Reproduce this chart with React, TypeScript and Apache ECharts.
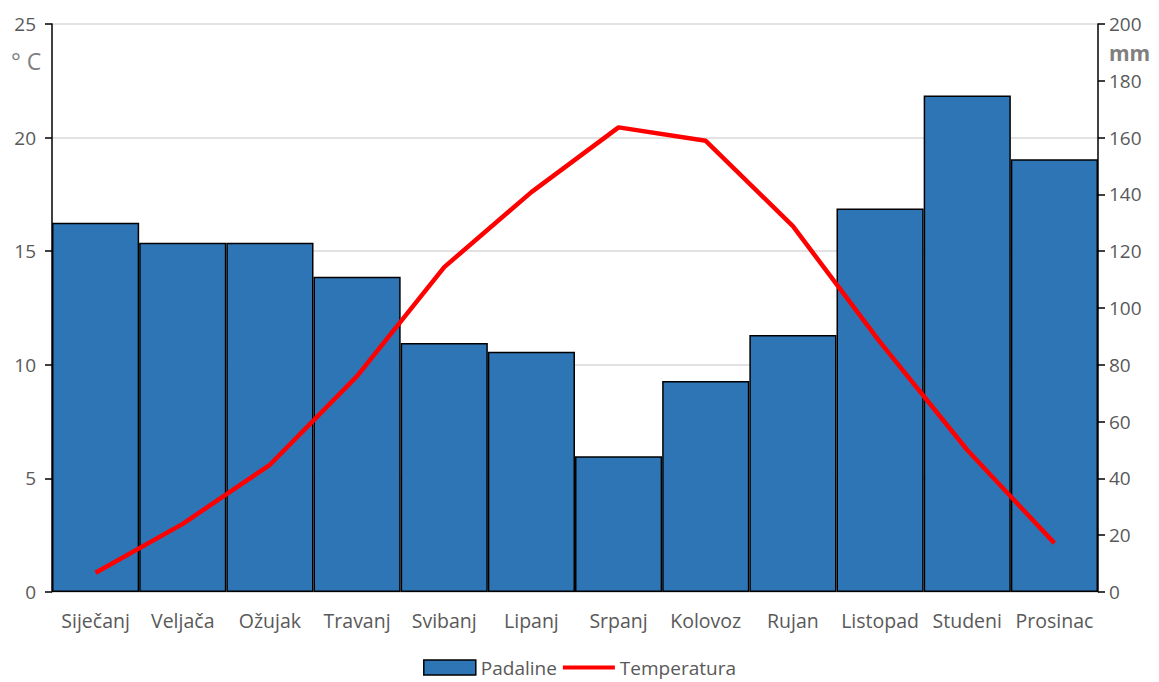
import React, { useEffect, useRef } from "react";
import * as echarts from "echarts";

const months = ["Siječanj", "Veljača", "Ožujak", "Travanj", "Svibanj", "Lipanj", "Srpanj", "Kolovoz", "Rujan", "Listopad", "Studeni", "Prosinac"];
const padaline = [130, 123, 123, 111, 87.7, 84.6, 47.8, 74.3, 90.5, 135, 174.8, 152.4];
const temperatura = [0.85, 3.0, 5.6, 9.5, 14.3, 17.6, 20.45, 19.86, 16.1, 11.0, 6.25, 2.15];
const leftTicks = { min: 0, max: 25, interval: 5 };
const rightTicks = { min: 0, max: 200, interval: 20 };

const FONT = "'Open Sans', 'Noto Sans', sans-serif";
const TXT = "#595959";
const LINE_ICON = "path://M0,0 L0.01,0 Z M0,5.5 H52 V9.5 H0 Z M0,15 L0.01,15 Z";

export default function App() {
  const ref = useRef<HTMLDivElement>(null);
  useEffect(() => {
    if (!ref.current) return;
    const chart = echarts.init(ref.current, undefined, { renderer: "svg" });
    chart.setOption({
      animation: false,
      textStyle: { fontFamily: FONT },
      grid: { left: 52, right: 61, top: 24, bottom: 90, containLabel: false },
      legend: {
        bottom: 0,
        left: "center",
        itemWidth: 52,
        itemHeight: 15,
        itemGap: 6,
        textStyle: { color: TXT, fontSize: 19, fontFamily: FONT },
        data: [
          { name: "Padaline", icon: "rect", itemStyle: { color: "#2E75B6", borderColor: "#000", borderWidth: 1.5 } },
          { name: "Temperatura", icon: LINE_ICON, itemStyle: { color: "#FF0000", borderWidth: 0 } },
        ],
      },
      xAxis: {
        type: "category",
        data: months,
        axisLine: { show: true, lineStyle: { color: "#d9d9d9", width: 1.5 } },
        axisTick: { show: false },
        axisLabel: { color: TXT, fontSize: 19.5, margin: 18, interval: 0, fontFamily: FONT },
      },
      yAxis: [
        {
          type: "value",
          position: "left",
          ...leftTicks,
          axisLine: { show: true, lineStyle: { color: "#000", width: 1.5 } },
          axisTick: { show: true, length: 7, lineStyle: { color: "#000", width: 1.5 } },
          axisLabel: { color: TXT, fontSize: 19, margin: 16, fontFamily: FONT },
          splitLine: { show: true, lineStyle: { color: "#d9d9d9", width: 1.5 } },
        },
        {
          type: "value",
          position: "right",
          ...rightTicks,
          axisLine: { show: true, lineStyle: { color: "#000", width: 1.5 } },
          axisTick: { show: true, length: 7, lineStyle: { color: "#000", width: 1.5 } },
          axisLabel: { color: TXT, fontSize: 19, margin: 11, fontFamily: FONT },
          splitLine: { show: false },
        },
      ],
      series: [
        {
          name: "Padaline",
          type: "bar",
          yAxisIndex: 1,
          data: padaline,
          barCategoryGap: "0%",
          barGap: "0%",
          itemStyle: { color: "#2E75B6", borderColor: "#000", borderWidth: 1.5 },
          z: 2,
        },
        {
          name: "Temperatura",
          type: "line",
          yAxisIndex: 0,
          data: temperatura,
          symbol: "none",
          lineStyle: { color: "#FF0000", width: 4.5 },
          itemStyle: { color: "#FF0000" },
          z: 3,
        },
      ],
      graphic: [
        {
          type: "text",
          left: 11,
          top: 49,
          style: { text: "° C", fill: "#7f7f7f", fontSize: 23, fontFamily: FONT },
        },
        {
          type: "text",
          left: 1109,
          top: 42,
          style: { text: "mm", fill: "#7f7f7f", fontSize: 21, fontWeight: "bold", fontFamily: FONT },
        },
      ],
    });
    return () => chart.dispose();
  }, []);
  return <div ref={ref} style={{ position: "fixed", left: 0, top: 0, width: 1159, height: 682, background: "#fff" }} />;
}
